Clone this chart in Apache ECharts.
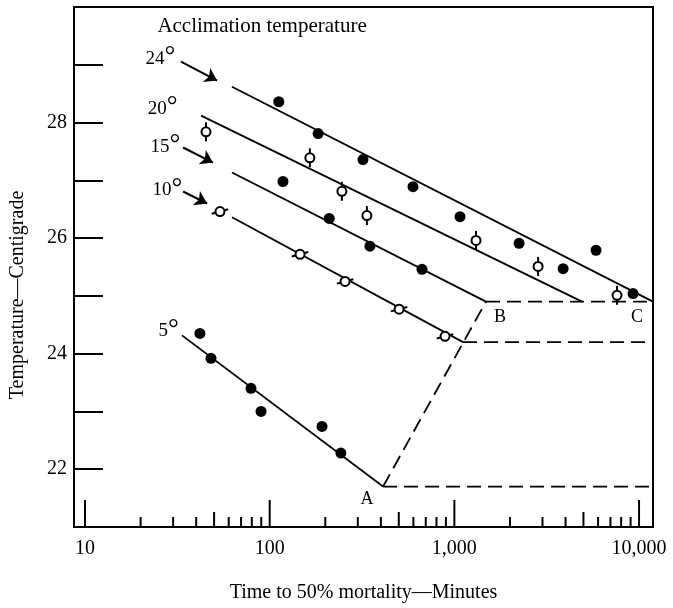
<!DOCTYPE html>
<html><head><meta charset="utf-8">
<script src="https://cdn.jsdelivr.net/npm/echarts@6/dist/echarts.min.js"></script>
<style>html,body{margin:0;padding:0;background:#fff}#c{width:673px;height:608px}</style>
</head><body><div id="c"></div>
<script>
// ---- axis ranges and ticks ----
const xMin = 8.717, xMax = 11900;
const yMin = 21, yMax = 30;
const xLabelTicks = [10, 100, 1000, 10000];
const xMidTicks = [50, 500, 5000];
const xMinorTicks = [20, 30, 40, 60, 70, 80, 90, 200, 300, 400, 600, 700, 800, 900, 2000, 3000, 4000, 6000, 7000, 8000, 9000];
const yTickLabels = [22, 24, 26, 28];

// ---- observations (time in minutes, temperature °C) ----
const acc24 = [[112, 28.36], [183, 27.81], [320, 27.36], [597, 26.89], [1073, 26.37], [2240, 25.91], [3880, 25.47], [5850, 25.79], [9280, 25.04]];
const acc20 = [[45.2, 27.84], [165, 27.39], [246, 26.81], [336, 26.39], [1310, 25.96], [2840, 25.51], [7600, 25.01]];
const acc15 = [[118, 26.98], [210, 26.34], [349, 25.86], [668, 25.46]];
const acc10 = [[53.8, 26.46], [146, 25.72], [256, 25.25], [502, 24.77], [890, 24.30]];
const acc5 = [[41.9, 24.35], [48.1, 23.92], [79.2, 23.40], [89.8, 23.00], [192, 22.74], [243, 22.28]];

// ---- fitted lines and boundaries ----
const fit24 = [[62.5, 28.62], [11900, 24.9]];
const fit20 = [[42.5, 28.12], [4910, 24.9]];
const fit15 = [[62.5, 27.135], [1483, 24.9]];
const fit10 = [[62.5, 26.36], [1114, 24.2]];
const fit5 = [[33.5, 24.317], [411, 21.7]];
const boundAB = [[411, 21.7], [1483, 24.9]];
const plateauA = [[411, 21.7], [11900, 21.7]];
const plateau10 = [[1114, 24.2], [11900, 24.2]];
const plateauB = [[1483, 24.9], [11900, 24.9]];

// ---- annotations ----
const accNames = ['24', '20', '15', '10', '5'];
const accLabelAt = [[21.1, 29.107], [21.7, 28.242], [22.5, 27.585], [23.06, 26.824], [24.85, 24.386]];
const arrows = [
  [[33.1, 29.055], [51.9, 28.726]],
  [[33.96, 27.568], [49.3, 27.308]],
  [[33.96, 26.807], [45.8, 26.599]]
];
const cornerNames = ['A', 'B', 'C'];
const cornerAt = [[336.5, 21.48], [1767, 24.63], [9750, 24.63]];
const titleText = 'Acclimation temperature';
const titleAt = [24.5, 29.66];

const serif = 'Liberation Serif';
const black = '#000';

function fitLine(data, dashed) {
  return { type: 'line', data: data, symbol: 'none', silent: true, z: 2,
    lineStyle: { color: black, width: 1.8, type: dashed ? [14, 7] : 'solid' } };
}
function tickSeries(values, len) {
  return { type: 'custom', data: values.map(v => [v, yMin]), clip: false, silent: true, z: 3,
    renderItem: function (params, api) {
      const p = api.coord([api.value(0), api.value(1)]);
      return { type: 'line', shape: { x1: p[0], y1: p[1], x2: p[0], y2: p[1] - len },
        style: { stroke: black, lineWidth: 2 } };
    } };
}
function textSeries(items, label) {
  return { type: 'scatter', data: items, symbolSize: 1, itemStyle: { color: 'rgba(0,0,0,0)', opacity: 1 },
    silent: true, z: 6,
    label: Object.assign({ show: true, color: black, fontFamily: serif }, label) };
}
function filled(data) {
  return { type: 'scatter', data: data, symbol: 'circle', symbolSize: 11, z: 5,
    itemStyle: { color: black, opacity: 1 } };
}
function hollow(data) {
  return { type: 'scatter', data: data, symbol: 'circle', symbolSize: 9, z: 5,
    itemStyle: { color: '#fff', borderColor: black, borderWidth: 2, opacity: 1 } };
}
function bars(data, size, rot) {
  return { type: 'scatter', data: data, symbol: 'rect', symbolSize: size, symbolRotate: rot, z: 4,
    itemStyle: { color: black, opacity: 1 } };
}

const chart = echarts.init(document.getElementById('c'), null, { renderer: 'canvas' });
chart.setOption({
  animation: false,
  backgroundColor: '#fff',
  grid: { left: 74, top: 7, width: 579, height: 520, show: true, borderColor: black, borderWidth: 2,
    backgroundColor: 'transparent' },
  xAxis: {
    type: 'log', logBase: 10, min: xMin, max: xMax,
    axisLine: { show: true, onZero: false, lineStyle: { color: black, width: 2 } },
    axisTick: { show: false }, splitLine: { show: false },
    axisLabel: { color: black, fontFamily: serif, fontSize: 20, margin: 12,
      formatter: function (v) {
        for (const t of xLabelTicks) { if (Math.abs(v - t) < 1e-6 * t) return t.toLocaleString('en-US'); }
        return '';
      } },
    name: 'Time to 50% mortality\u2014Minutes', nameLocation: 'middle', nameGap: 56,
    nameTextStyle: { color: black, fontFamily: serif, fontSize: 20 }
  },
  yAxis: {
    type: 'value', min: yMin, max: yMax, interval: 1,
    axisLine: { show: true, lineStyle: { color: black, width: 2 } },
    axisTick: { show: true, inside: true, length: 29, lineStyle: { color: black, width: 2 } },
    splitLine: { show: false },
    axisLabel: { color: black, fontFamily: serif, fontSize: 20, margin: 7,
      formatter: function (v) { return yTickLabels.indexOf(v) >= 0 ? String(v) : ''; } },
    name: 'Temperature\u2014Centigrade', nameLocation: 'middle', nameGap: 46,
    nameTextStyle: { color: black, fontFamily: serif, fontSize: 20, padding: [0, 56, 0, 0] }
  },
  series: [
    fitLine(fit24), fitLine(fit20), fitLine(fit15), fitLine(fit10), fitLine(fit5),
    fitLine(boundAB, true), fitLine(plateauA, true), fitLine(plateau10, true), fitLine(plateauB, true),
    tickSeries(xLabelTicks, 27), tickSeries(xMidTicks, 15), tickSeries(xMinorTicks, 10),
    filled(acc24), filled(acc15), filled(acc5),
    bars(acc20, [2, 19], 0), hollow(acc20),
    bars(acc10, [17, 2], 15), hollow(acc10),
    { type: 'lines', coordinateSystem: 'cartesian2d', silent: true, z: 5,
      symbol: ['none', 'arrow'], symbolSize: 12,
      lineStyle: { color: black, width: 2, opacity: 1 },
      data: arrows.map(c => ({ coords: c })) },
    textSeries(accNames.map((n, i) => ({ name: n, value: accLabelAt[i] })), {
      position: 'right', distance: 0,
      formatter: function (p) { return '{n|' + p.name + '}{d|\u00b0}'; },
      rich: { n: { fontFamily: serif, fontSize: 19, color: black },
              d: { fontFamily: serif, fontSize: 27, color: black, padding: [0, 0, 3, 0] } } }),
    textSeries(cornerNames.map((n, i) => ({ name: n, value: cornerAt[i] })), {
      position: 'inside', fontSize: 18, formatter: '{b}' }),
    textSeries([{ name: titleText, value: titleAt }], {
      position: 'right', distance: 0, fontSize: 21, formatter: '{b}' })
  ]
});
</script>
</body></html>
